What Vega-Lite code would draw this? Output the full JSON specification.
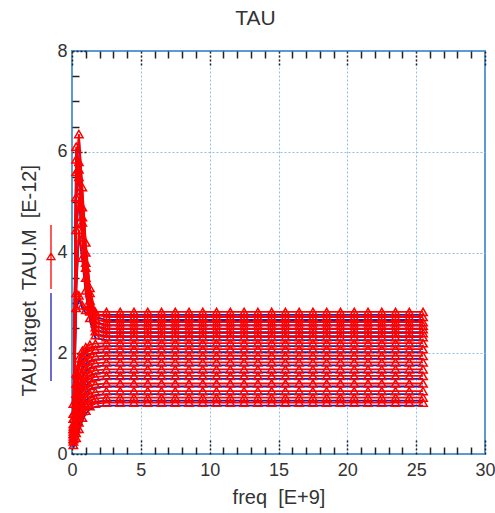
{
"$schema":"https://vega.github.io/schema/vega-lite/v6.json",
"width":413,"height":403,
"autosize":{"type":"none"},
"padding":{"left":72,"top":51,"right":10,"bottom":59},
"title":{"text":"TAU","fontSize":21,"font":"Liberation Sans","fontWeight":"normal","color":"#333333","offset":13,"frame":"group","dx":-23},
"config":{
 "view":{"stroke":"#5b9bd5","strokeWidth":2},
 "axis":{"domain":false,"labelFont":"Liberation Sans","titleFont":"Liberation Sans","labelFontSize":18,"titleFontSize":20,"labelColor":"#333333","titleColor":"#333333","titleFontWeight":"normal","tickColor":"#222222","tickWidth":1.5,"gridColor":"#8fbde6","gridDash":[2,2],"gridWidth":1,"labelOverlap":false,"labelFlush":false}
},
"data":{"values":[
{"c":1,"f":0.1,"m":0.4,"t":0.34},{"c":1,"f":0.3,"m":2.9,"t":2.84},{"c":1,"f":0.5,"m":3.15,"t":3.09},{"c":1,"f":0.75,"m":2.95,"t":2.89},{"c":1,"f":1,"m":2.86,"t":2.8},{"c":1,"f":1.3,"m":2.83,"t":2.77},{"c":1,"f":1.7,"m":2.82,"t":2.76},{"c":1,"f":2.5,"m":2.82,"t":2.76},
{"c":1,"f":3.5,"m":2.82,"t":2.76},{"c":1,"f":4.5,"m":2.82,"t":2.76},{"c":1,"f":5.5,"m":2.82,"t":2.76},{"c":1,"f":6.5,"m":2.82,"t":2.76},{"c":1,"f":7.5,"m":2.82,"t":2.76},{"c":1,"f":8.5,"m":2.82,"t":2.76},{"c":1,"f":9.5,"m":2.82,"t":2.76},{"c":1,"f":10.5,"m":2.82,"t":2.76},{"c":1,"f":11.5,"m":2.82,"t":2.76},{"c":1,"f":12.5,"m":2.82,"t":2.76},{"c":1,"f":13.5,"m":2.82,"t":2.76},{"c":1,"f":14.5,"m":2.82,"t":2.76},{"c":1,"f":15.5,"m":2.82,"t":2.76},{"c":1,"f":16.5,"m":2.82,"t":2.76},{"c":1,"f":17.5,"m":2.82,"t":2.76},{"c":1,"f":18.5,"m":2.82,"t":2.76},{"c":1,"f":19.5,"m":2.82,"t":2.76},{"c":1,"f":20.5,"m":2.82,"t":2.76},{"c":1,"f":21.5,"m":2.82,"t":2.76},{"c":1,"f":22.5,"m":2.82,"t":2.76},{"c":1,"f":23.5,"m":2.82,"t":2.76},{"c":1,"f":24.5,"m":2.82,"t":2.76},{"c":1,"f":25.5,"m":2.82,"t":2.76},
{"c":2,"f":0.1,"m":0.5,"t":0.44},{"c":2,"f":0.3,"m":5.6,"t":5.54},{"c":2,"f":0.5,"m":6.35,"t":6.29},{"c":2,"f":0.75,"m":5.3,"t":5.24},{"c":2,"f":1,"m":4.2,"t":4.14},{"c":2,"f":1.3,"m":3.3,"t":3.24},{"c":2,"f":1.7,"m":2.78,"t":2.72},{"c":2,"f":2.5,"m":2.72,"t":2.66},
{"c":2,"f":3.5,"m":2.72,"t":2.66},{"c":2,"f":4.5,"m":2.72,"t":2.66},{"c":2,"f":5.5,"m":2.72,"t":2.66},{"c":2,"f":6.5,"m":2.72,"t":2.66},{"c":2,"f":7.5,"m":2.72,"t":2.66},{"c":2,"f":8.5,"m":2.72,"t":2.66},{"c":2,"f":9.5,"m":2.72,"t":2.66},{"c":2,"f":10.5,"m":2.72,"t":2.66},{"c":2,"f":11.5,"m":2.72,"t":2.66},{"c":2,"f":12.5,"m":2.72,"t":2.66},{"c":2,"f":13.5,"m":2.72,"t":2.66},{"c":2,"f":14.5,"m":2.72,"t":2.66},{"c":2,"f":15.5,"m":2.72,"t":2.66},{"c":2,"f":16.5,"m":2.72,"t":2.66},{"c":2,"f":17.5,"m":2.72,"t":2.66},{"c":2,"f":18.5,"m":2.72,"t":2.66},{"c":2,"f":19.5,"m":2.72,"t":2.66},{"c":2,"f":20.5,"m":2.72,"t":2.66},{"c":2,"f":21.5,"m":2.72,"t":2.66},{"c":2,"f":22.5,"m":2.72,"t":2.66},{"c":2,"f":23.5,"m":2.72,"t":2.66},{"c":2,"f":24.5,"m":2.72,"t":2.66},{"c":2,"f":25.5,"m":2.72,"t":2.66},
{"c":3,"f":0.1,"m":0.6,"t":0.54},{"c":3,"f":0.3,"m":6.1,"t":6.04},{"c":3,"f":0.5,"m":5.8,"t":5.74},{"c":3,"f":0.75,"m":4.9,"t":4.84},{"c":3,"f":1,"m":4.0,"t":3.94},{"c":3,"f":1.3,"m":3.2,"t":3.14},{"c":3,"f":1.7,"m":2.68,"t":2.62},{"c":3,"f":2.5,"m":2.62,"t":2.56},
{"c":3,"f":3.5,"m":2.62,"t":2.56},{"c":3,"f":4.5,"m":2.62,"t":2.56},{"c":3,"f":5.5,"m":2.62,"t":2.56},{"c":3,"f":6.5,"m":2.62,"t":2.56},{"c":3,"f":7.5,"m":2.62,"t":2.56},{"c":3,"f":8.5,"m":2.62,"t":2.56},{"c":3,"f":9.5,"m":2.62,"t":2.56},{"c":3,"f":10.5,"m":2.62,"t":2.56},{"c":3,"f":11.5,"m":2.62,"t":2.56},{"c":3,"f":12.5,"m":2.62,"t":2.56},{"c":3,"f":13.5,"m":2.62,"t":2.56},{"c":3,"f":14.5,"m":2.62,"t":2.56},{"c":3,"f":15.5,"m":2.62,"t":2.56},{"c":3,"f":16.5,"m":2.62,"t":2.56},{"c":3,"f":17.5,"m":2.62,"t":2.56},{"c":3,"f":18.5,"m":2.62,"t":2.56},{"c":3,"f":19.5,"m":2.62,"t":2.56},{"c":3,"f":20.5,"m":2.62,"t":2.56},{"c":3,"f":21.5,"m":2.62,"t":2.56},{"c":3,"f":22.5,"m":2.62,"t":2.56},{"c":3,"f":23.5,"m":2.62,"t":2.56},{"c":3,"f":24.5,"m":2.62,"t":2.56},{"c":3,"f":25.5,"m":2.62,"t":2.56},
{"c":4,"f":0.1,"m":0.3,"t":0.24},{"c":4,"f":0.3,"m":5.85,"t":5.79},{"c":4,"f":0.5,"m":5.5,"t":5.44},{"c":4,"f":0.75,"m":4.7,"t":4.64},{"c":4,"f":1,"m":3.8,"t":3.74},{"c":4,"f":1.3,"m":3.05,"t":2.99},{"c":4,"f":1.7,"m":2.6,"t":2.54},{"c":4,"f":2.5,"m":2.55,"t":2.49},
{"c":4,"f":3.5,"m":2.55,"t":2.49},{"c":4,"f":4.5,"m":2.55,"t":2.49},{"c":4,"f":5.5,"m":2.55,"t":2.49},{"c":4,"f":6.5,"m":2.55,"t":2.49},{"c":4,"f":7.5,"m":2.55,"t":2.49},{"c":4,"f":8.5,"m":2.55,"t":2.49},{"c":4,"f":9.5,"m":2.55,"t":2.49},{"c":4,"f":10.5,"m":2.55,"t":2.49},{"c":4,"f":11.5,"m":2.55,"t":2.49},{"c":4,"f":12.5,"m":2.55,"t":2.49},{"c":4,"f":13.5,"m":2.55,"t":2.49},{"c":4,"f":14.5,"m":2.55,"t":2.49},{"c":4,"f":15.5,"m":2.55,"t":2.49},{"c":4,"f":16.5,"m":2.55,"t":2.49},{"c":4,"f":17.5,"m":2.55,"t":2.49},{"c":4,"f":18.5,"m":2.55,"t":2.49},{"c":4,"f":19.5,"m":2.55,"t":2.49},{"c":4,"f":20.5,"m":2.55,"t":2.49},{"c":4,"f":21.5,"m":2.55,"t":2.49},{"c":4,"f":22.5,"m":2.55,"t":2.49},{"c":4,"f":23.5,"m":2.55,"t":2.49},{"c":4,"f":24.5,"m":2.55,"t":2.49},{"c":4,"f":25.5,"m":2.55,"t":2.49},
{"c":5,"f":0.1,"m":0.8,"t":0.74},{"c":5,"f":0.3,"m":5.1,"t":5.04},{"c":5,"f":0.5,"m":5.65,"t":5.59},{"c":5,"f":0.75,"m":4.6,"t":4.54},{"c":5,"f":1,"m":3.7,"t":3.64},{"c":5,"f":1.3,"m":2.95,"t":2.89},{"c":5,"f":1.7,"m":2.52,"t":2.46},{"c":5,"f":2.5,"m":2.48,"t":2.42},
{"c":5,"f":3.5,"m":2.48,"t":2.42},{"c":5,"f":4.5,"m":2.48,"t":2.42},{"c":5,"f":5.5,"m":2.48,"t":2.42},{"c":5,"f":6.5,"m":2.48,"t":2.42},{"c":5,"f":7.5,"m":2.48,"t":2.42},{"c":5,"f":8.5,"m":2.48,"t":2.42},{"c":5,"f":9.5,"m":2.48,"t":2.42},{"c":5,"f":10.5,"m":2.48,"t":2.42},{"c":5,"f":11.5,"m":2.48,"t":2.42},{"c":5,"f":12.5,"m":2.48,"t":2.42},{"c":5,"f":13.5,"m":2.48,"t":2.42},{"c":5,"f":14.5,"m":2.48,"t":2.42},{"c":5,"f":15.5,"m":2.48,"t":2.42},{"c":5,"f":16.5,"m":2.48,"t":2.42},{"c":5,"f":17.5,"m":2.48,"t":2.42},{"c":5,"f":18.5,"m":2.48,"t":2.42},{"c":5,"f":19.5,"m":2.48,"t":2.42},{"c":5,"f":20.5,"m":2.48,"t":2.42},{"c":5,"f":21.5,"m":2.48,"t":2.42},{"c":5,"f":22.5,"m":2.48,"t":2.42},{"c":5,"f":23.5,"m":2.48,"t":2.42},{"c":5,"f":24.5,"m":2.48,"t":2.42},{"c":5,"f":25.5,"m":2.48,"t":2.42},
{"c":6,"f":0.1,"m":0.45,"t":0.39},{"c":6,"f":0.3,"m":4.45,"t":4.39},{"c":6,"f":0.5,"m":5.1,"t":5.04},{"c":6,"f":0.75,"m":4.3,"t":4.24},{"c":6,"f":1,"m":3.5,"t":3.44},{"c":6,"f":1.3,"m":2.85,"t":2.79},{"c":6,"f":1.7,"m":2.44,"t":2.38},{"c":6,"f":2.5,"m":2.4,"t":2.34},
{"c":6,"f":3.5,"m":2.4,"t":2.34},{"c":6,"f":4.5,"m":2.4,"t":2.34},{"c":6,"f":5.5,"m":2.4,"t":2.34},{"c":6,"f":6.5,"m":2.4,"t":2.34},{"c":6,"f":7.5,"m":2.4,"t":2.34},{"c":6,"f":8.5,"m":2.4,"t":2.34},{"c":6,"f":9.5,"m":2.4,"t":2.34},{"c":6,"f":10.5,"m":2.4,"t":2.34},{"c":6,"f":11.5,"m":2.4,"t":2.34},{"c":6,"f":12.5,"m":2.4,"t":2.34},{"c":6,"f":13.5,"m":2.4,"t":2.34},{"c":6,"f":14.5,"m":2.4,"t":2.34},{"c":6,"f":15.5,"m":2.4,"t":2.34},{"c":6,"f":16.5,"m":2.4,"t":2.34},{"c":6,"f":17.5,"m":2.4,"t":2.34},{"c":6,"f":18.5,"m":2.4,"t":2.34},{"c":6,"f":19.5,"m":2.4,"t":2.34},{"c":6,"f":20.5,"m":2.4,"t":2.34},{"c":6,"f":21.5,"m":2.4,"t":2.34},{"c":6,"f":22.5,"m":2.4,"t":2.34},{"c":6,"f":23.5,"m":2.4,"t":2.34},{"c":6,"f":24.5,"m":2.4,"t":2.34},{"c":6,"f":25.5,"m":2.4,"t":2.34},
{"c":7,"f":0.1,"m":0.7,"t":0.64},{"c":7,"f":0.3,"m":3.2,"t":3.14},{"c":7,"f":0.5,"m":4.45,"t":4.39},{"c":7,"f":0.75,"m":3.9,"t":3.84},{"c":7,"f":1,"m":3.25,"t":3.19},{"c":7,"f":1.3,"m":2.7,"t":2.64},{"c":7,"f":1.7,"m":2.36,"t":2.3},{"c":7,"f":2.5,"m":2.32,"t":2.26},
{"c":7,"f":3.5,"m":2.32,"t":2.26},{"c":7,"f":4.5,"m":2.32,"t":2.26},{"c":7,"f":5.5,"m":2.32,"t":2.26},{"c":7,"f":6.5,"m":2.32,"t":2.26},{"c":7,"f":7.5,"m":2.32,"t":2.26},{"c":7,"f":8.5,"m":2.32,"t":2.26},{"c":7,"f":9.5,"m":2.32,"t":2.26},{"c":7,"f":10.5,"m":2.32,"t":2.26},{"c":7,"f":11.5,"m":2.32,"t":2.26},{"c":7,"f":12.5,"m":2.32,"t":2.26},{"c":7,"f":13.5,"m":2.32,"t":2.26},{"c":7,"f":14.5,"m":2.32,"t":2.26},{"c":7,"f":15.5,"m":2.32,"t":2.26},{"c":7,"f":16.5,"m":2.32,"t":2.26},{"c":7,"f":17.5,"m":2.32,"t":2.26},{"c":7,"f":18.5,"m":2.32,"t":2.26},{"c":7,"f":19.5,"m":2.32,"t":2.26},{"c":7,"f":20.5,"m":2.32,"t":2.26},{"c":7,"f":21.5,"m":2.32,"t":2.26},{"c":7,"f":22.5,"m":2.32,"t":2.26},{"c":7,"f":23.5,"m":2.32,"t":2.26},{"c":7,"f":24.5,"m":2.32,"t":2.26},{"c":7,"f":25.5,"m":2.32,"t":2.26},
{"c":8,"f":0.1,"m":1.0,"t":0.94},{"c":8,"f":0.3,"m":1.6,"t":1.54},{"c":8,"f":0.5,"m":1.9,"t":1.84},{"c":8,"f":0.75,"m":2.05,"t":1.99},{"c":8,"f":1,"m":2.12,"t":2.06},{"c":8,"f":1.3,"m":2.17,"t":2.11},{"c":8,"f":1.7,"m":2.19,"t":2.13},{"c":8,"f":2.5,"m":2.2,"t":2.14},
{"c":8,"f":3.5,"m":2.2,"t":2.14},{"c":8,"f":4.5,"m":2.2,"t":2.14},{"c":8,"f":5.5,"m":2.2,"t":2.14},{"c":8,"f":6.5,"m":2.2,"t":2.14},{"c":8,"f":7.5,"m":2.2,"t":2.14},{"c":8,"f":8.5,"m":2.2,"t":2.14},{"c":8,"f":9.5,"m":2.2,"t":2.14},{"c":8,"f":10.5,"m":2.2,"t":2.14},{"c":8,"f":11.5,"m":2.2,"t":2.14},{"c":8,"f":12.5,"m":2.2,"t":2.14},{"c":8,"f":13.5,"m":2.2,"t":2.14},{"c":8,"f":14.5,"m":2.2,"t":2.14},{"c":8,"f":15.5,"m":2.2,"t":2.14},{"c":8,"f":16.5,"m":2.2,"t":2.14},{"c":8,"f":17.5,"m":2.2,"t":2.14},{"c":8,"f":18.5,"m":2.2,"t":2.14},{"c":8,"f":19.5,"m":2.2,"t":2.14},{"c":8,"f":20.5,"m":2.2,"t":2.14},{"c":8,"f":21.5,"m":2.2,"t":2.14},{"c":8,"f":22.5,"m":2.2,"t":2.14},{"c":8,"f":23.5,"m":2.2,"t":2.14},{"c":8,"f":24.5,"m":2.2,"t":2.14},{"c":8,"f":25.5,"m":2.2,"t":2.14},
{"c":9,"f":0.1,"m":0.8,"t":0.74},{"c":9,"f":0.3,"m":1.4,"t":1.34},{"c":9,"f":0.5,"m":1.75,"t":1.69},{"c":9,"f":0.75,"m":1.92,"t":1.86},{"c":9,"f":1,"m":2.0,"t":1.94},{"c":9,"f":1.3,"m":2.05,"t":1.99},{"c":9,"f":1.7,"m":2.07,"t":2.01},{"c":9,"f":2.5,"m":2.08,"t":2.02},
{"c":9,"f":3.5,"m":2.08,"t":2.02},{"c":9,"f":4.5,"m":2.08,"t":2.02},{"c":9,"f":5.5,"m":2.08,"t":2.02},{"c":9,"f":6.5,"m":2.08,"t":2.02},{"c":9,"f":7.5,"m":2.08,"t":2.02},{"c":9,"f":8.5,"m":2.08,"t":2.02},{"c":9,"f":9.5,"m":2.08,"t":2.02},{"c":9,"f":10.5,"m":2.08,"t":2.02},{"c":9,"f":11.5,"m":2.08,"t":2.02},{"c":9,"f":12.5,"m":2.08,"t":2.02},{"c":9,"f":13.5,"m":2.08,"t":2.02},{"c":9,"f":14.5,"m":2.08,"t":2.02},{"c":9,"f":15.5,"m":2.08,"t":2.02},{"c":9,"f":16.5,"m":2.08,"t":2.02},{"c":9,"f":17.5,"m":2.08,"t":2.02},{"c":9,"f":18.5,"m":2.08,"t":2.02},{"c":9,"f":19.5,"m":2.08,"t":2.02},{"c":9,"f":20.5,"m":2.08,"t":2.02},{"c":9,"f":21.5,"m":2.08,"t":2.02},{"c":9,"f":22.5,"m":2.08,"t":2.02},{"c":9,"f":23.5,"m":2.08,"t":2.02},{"c":9,"f":24.5,"m":2.08,"t":2.02},{"c":9,"f":25.5,"m":2.08,"t":2.02},
{"c":10,"f":0.1,"m":0.7,"t":0.64},{"c":10,"f":0.3,"m":1.2,"t":1.14},{"c":10,"f":0.5,"m":1.55,"t":1.49},{"c":10,"f":0.75,"m":1.75,"t":1.69},{"c":10,"f":1,"m":1.85,"t":1.79},{"c":10,"f":1.3,"m":1.91,"t":1.85},{"c":10,"f":1.7,"m":1.94,"t":1.88},{"c":10,"f":2.5,"m":1.95,"t":1.89},
{"c":10,"f":3.5,"m":1.95,"t":1.89},{"c":10,"f":4.5,"m":1.95,"t":1.89},{"c":10,"f":5.5,"m":1.95,"t":1.89},{"c":10,"f":6.5,"m":1.95,"t":1.89},{"c":10,"f":7.5,"m":1.95,"t":1.89},{"c":10,"f":8.5,"m":1.95,"t":1.89},{"c":10,"f":9.5,"m":1.95,"t":1.89},{"c":10,"f":10.5,"m":1.95,"t":1.89},{"c":10,"f":11.5,"m":1.95,"t":1.89},{"c":10,"f":12.5,"m":1.95,"t":1.89},{"c":10,"f":13.5,"m":1.95,"t":1.89},{"c":10,"f":14.5,"m":1.95,"t":1.89},{"c":10,"f":15.5,"m":1.95,"t":1.89},{"c":10,"f":16.5,"m":1.95,"t":1.89},{"c":10,"f":17.5,"m":1.95,"t":1.89},{"c":10,"f":18.5,"m":1.95,"t":1.89},{"c":10,"f":19.5,"m":1.95,"t":1.89},{"c":10,"f":20.5,"m":1.95,"t":1.89},{"c":10,"f":21.5,"m":1.95,"t":1.89},{"c":10,"f":22.5,"m":1.95,"t":1.89},{"c":10,"f":23.5,"m":1.95,"t":1.89},{"c":10,"f":24.5,"m":1.95,"t":1.89},{"c":10,"f":25.5,"m":1.95,"t":1.89},
{"c":11,"f":0.1,"m":0.55,"t":0.49},{"c":11,"f":0.3,"m":1.0,"t":0.94},{"c":11,"f":0.5,"m":1.35,"t":1.29},{"c":11,"f":0.75,"m":1.58,"t":1.52},{"c":11,"f":1,"m":1.7,"t":1.64},{"c":11,"f":1.3,"m":1.77,"t":1.71},{"c":11,"f":1.7,"m":1.8,"t":1.74},{"c":11,"f":2.5,"m":1.82,"t":1.76},
{"c":11,"f":3.5,"m":1.82,"t":1.76},{"c":11,"f":4.5,"m":1.82,"t":1.76},{"c":11,"f":5.5,"m":1.82,"t":1.76},{"c":11,"f":6.5,"m":1.82,"t":1.76},{"c":11,"f":7.5,"m":1.82,"t":1.76},{"c":11,"f":8.5,"m":1.82,"t":1.76},{"c":11,"f":9.5,"m":1.82,"t":1.76},{"c":11,"f":10.5,"m":1.82,"t":1.76},{"c":11,"f":11.5,"m":1.82,"t":1.76},{"c":11,"f":12.5,"m":1.82,"t":1.76},{"c":11,"f":13.5,"m":1.82,"t":1.76},{"c":11,"f":14.5,"m":1.82,"t":1.76},{"c":11,"f":15.5,"m":1.82,"t":1.76},{"c":11,"f":16.5,"m":1.82,"t":1.76},{"c":11,"f":17.5,"m":1.82,"t":1.76},{"c":11,"f":18.5,"m":1.82,"t":1.76},{"c":11,"f":19.5,"m":1.82,"t":1.76},{"c":11,"f":20.5,"m":1.82,"t":1.76},{"c":11,"f":21.5,"m":1.82,"t":1.76},{"c":11,"f":22.5,"m":1.82,"t":1.76},{"c":11,"f":23.5,"m":1.82,"t":1.76},{"c":11,"f":24.5,"m":1.82,"t":1.76},{"c":11,"f":25.5,"m":1.82,"t":1.76},
{"c":12,"f":0.1,"m":0.5,"t":0.44},{"c":12,"f":0.3,"m":0.85,"t":0.79},{"c":12,"f":0.5,"m":1.18,"t":1.12},{"c":12,"f":0.75,"m":1.42,"t":1.36},{"c":12,"f":1,"m":1.55,"t":1.49},{"c":12,"f":1.3,"m":1.62,"t":1.56},{"c":12,"f":1.7,"m":1.66,"t":1.6},{"c":12,"f":2.5,"m":1.68,"t":1.62},
{"c":12,"f":3.5,"m":1.68,"t":1.62},{"c":12,"f":4.5,"m":1.68,"t":1.62},{"c":12,"f":5.5,"m":1.68,"t":1.62},{"c":12,"f":6.5,"m":1.68,"t":1.62},{"c":12,"f":7.5,"m":1.68,"t":1.62},{"c":12,"f":8.5,"m":1.68,"t":1.62},{"c":12,"f":9.5,"m":1.68,"t":1.62},{"c":12,"f":10.5,"m":1.68,"t":1.62},{"c":12,"f":11.5,"m":1.68,"t":1.62},{"c":12,"f":12.5,"m":1.68,"t":1.62},{"c":12,"f":13.5,"m":1.68,"t":1.62},{"c":12,"f":14.5,"m":1.68,"t":1.62},{"c":12,"f":15.5,"m":1.68,"t":1.62},{"c":12,"f":16.5,"m":1.68,"t":1.62},{"c":12,"f":17.5,"m":1.68,"t":1.62},{"c":12,"f":18.5,"m":1.68,"t":1.62},{"c":12,"f":19.5,"m":1.68,"t":1.62},{"c":12,"f":20.5,"m":1.68,"t":1.62},{"c":12,"f":21.5,"m":1.68,"t":1.62},{"c":12,"f":22.5,"m":1.68,"t":1.62},{"c":12,"f":23.5,"m":1.68,"t":1.62},{"c":12,"f":24.5,"m":1.68,"t":1.62},{"c":12,"f":25.5,"m":1.68,"t":1.62},
{"c":13,"f":0.1,"m":0.4,"t":0.34},{"c":13,"f":0.3,"m":0.7,"t":0.64},{"c":13,"f":0.5,"m":1.02,"t":0.96},{"c":13,"f":0.75,"m":1.28,"t":1.22},{"c":13,"f":1,"m":1.42,"t":1.36},{"c":13,"f":1.3,"m":1.5,"t":1.44},{"c":13,"f":1.7,"m":1.53,"t":1.47},{"c":13,"f":2.5,"m":1.55,"t":1.49},
{"c":13,"f":3.5,"m":1.55,"t":1.49},{"c":13,"f":4.5,"m":1.55,"t":1.49},{"c":13,"f":5.5,"m":1.55,"t":1.49},{"c":13,"f":6.5,"m":1.55,"t":1.49},{"c":13,"f":7.5,"m":1.55,"t":1.49},{"c":13,"f":8.5,"m":1.55,"t":1.49},{"c":13,"f":9.5,"m":1.55,"t":1.49},{"c":13,"f":10.5,"m":1.55,"t":1.49},{"c":13,"f":11.5,"m":1.55,"t":1.49},{"c":13,"f":12.5,"m":1.55,"t":1.49},{"c":13,"f":13.5,"m":1.55,"t":1.49},{"c":13,"f":14.5,"m":1.55,"t":1.49},{"c":13,"f":15.5,"m":1.55,"t":1.49},{"c":13,"f":16.5,"m":1.55,"t":1.49},{"c":13,"f":17.5,"m":1.55,"t":1.49},{"c":13,"f":18.5,"m":1.55,"t":1.49},{"c":13,"f":19.5,"m":1.55,"t":1.49},{"c":13,"f":20.5,"m":1.55,"t":1.49},{"c":13,"f":21.5,"m":1.55,"t":1.49},{"c":13,"f":22.5,"m":1.55,"t":1.49},{"c":13,"f":23.5,"m":1.55,"t":1.49},{"c":13,"f":24.5,"m":1.55,"t":1.49},{"c":13,"f":25.5,"m":1.55,"t":1.49},
{"c":14,"f":0.1,"m":0.35,"t":0.29},{"c":14,"f":0.3,"m":0.6,"t":0.54},{"c":14,"f":0.5,"m":0.88,"t":0.82},{"c":14,"f":0.75,"m":1.12,"t":1.06},{"c":14,"f":1,"m":1.27,"t":1.21},{"c":14,"f":1.3,"m":1.35,"t":1.29},{"c":14,"f":1.7,"m":1.38,"t":1.32},{"c":14,"f":2.5,"m":1.4,"t":1.34},
{"c":14,"f":3.5,"m":1.4,"t":1.34},{"c":14,"f":4.5,"m":1.4,"t":1.34},{"c":14,"f":5.5,"m":1.4,"t":1.34},{"c":14,"f":6.5,"m":1.4,"t":1.34},{"c":14,"f":7.5,"m":1.4,"t":1.34},{"c":14,"f":8.5,"m":1.4,"t":1.34},{"c":14,"f":9.5,"m":1.4,"t":1.34},{"c":14,"f":10.5,"m":1.4,"t":1.34},{"c":14,"f":11.5,"m":1.4,"t":1.34},{"c":14,"f":12.5,"m":1.4,"t":1.34},{"c":14,"f":13.5,"m":1.4,"t":1.34},{"c":14,"f":14.5,"m":1.4,"t":1.34},{"c":14,"f":15.5,"m":1.4,"t":1.34},{"c":14,"f":16.5,"m":1.4,"t":1.34},{"c":14,"f":17.5,"m":1.4,"t":1.34},{"c":14,"f":18.5,"m":1.4,"t":1.34},{"c":14,"f":19.5,"m":1.4,"t":1.34},{"c":14,"f":20.5,"m":1.4,"t":1.34},{"c":14,"f":21.5,"m":1.4,"t":1.34},{"c":14,"f":22.5,"m":1.4,"t":1.34},{"c":14,"f":23.5,"m":1.4,"t":1.34},{"c":14,"f":24.5,"m":1.4,"t":1.34},{"c":14,"f":25.5,"m":1.4,"t":1.34},
{"c":15,"f":0.1,"m":0.3,"t":0.24},{"c":15,"f":0.3,"m":0.5,"t":0.44},{"c":15,"f":0.5,"m":0.75,"t":0.69},{"c":15,"f":0.75,"m":0.98,"t":0.92},{"c":15,"f":1,"m":1.12,"t":1.06},{"c":15,"f":1.3,"m":1.2,"t":1.14},{"c":15,"f":1.7,"m":1.23,"t":1.17},{"c":15,"f":2.5,"m":1.25,"t":1.19},
{"c":15,"f":3.5,"m":1.25,"t":1.19},{"c":15,"f":4.5,"m":1.25,"t":1.19},{"c":15,"f":5.5,"m":1.25,"t":1.19},{"c":15,"f":6.5,"m":1.25,"t":1.19},{"c":15,"f":7.5,"m":1.25,"t":1.19},{"c":15,"f":8.5,"m":1.25,"t":1.19},{"c":15,"f":9.5,"m":1.25,"t":1.19},{"c":15,"f":10.5,"m":1.25,"t":1.19},{"c":15,"f":11.5,"m":1.25,"t":1.19},{"c":15,"f":12.5,"m":1.25,"t":1.19},{"c":15,"f":13.5,"m":1.25,"t":1.19},{"c":15,"f":14.5,"m":1.25,"t":1.19},{"c":15,"f":15.5,"m":1.25,"t":1.19},{"c":15,"f":16.5,"m":1.25,"t":1.19},{"c":15,"f":17.5,"m":1.25,"t":1.19},{"c":15,"f":18.5,"m":1.25,"t":1.19},{"c":15,"f":19.5,"m":1.25,"t":1.19},{"c":15,"f":20.5,"m":1.25,"t":1.19},{"c":15,"f":21.5,"m":1.25,"t":1.19},{"c":15,"f":22.5,"m":1.25,"t":1.19},{"c":15,"f":23.5,"m":1.25,"t":1.19},{"c":15,"f":24.5,"m":1.25,"t":1.19},{"c":15,"f":25.5,"m":1.25,"t":1.19},
{"c":16,"f":0.1,"m":0.25,"t":0.19},{"c":16,"f":0.3,"m":0.42,"t":0.36},{"c":16,"f":0.5,"m":0.63,"t":0.57},{"c":16,"f":0.75,"m":0.85,"t":0.79},{"c":16,"f":1,"m":0.98,"t":0.92},{"c":16,"f":1.3,"m":1.06,"t":1.0},{"c":16,"f":1.7,"m":1.1,"t":1.04},{"c":16,"f":2.5,"m":1.12,"t":1.06},
{"c":16,"f":3.5,"m":1.12,"t":1.06},{"c":16,"f":4.5,"m":1.12,"t":1.06},{"c":16,"f":5.5,"m":1.12,"t":1.06},{"c":16,"f":6.5,"m":1.12,"t":1.06},{"c":16,"f":7.5,"m":1.12,"t":1.06},{"c":16,"f":8.5,"m":1.12,"t":1.06},{"c":16,"f":9.5,"m":1.12,"t":1.06},{"c":16,"f":10.5,"m":1.12,"t":1.06},{"c":16,"f":11.5,"m":1.12,"t":1.06},{"c":16,"f":12.5,"m":1.12,"t":1.06},{"c":16,"f":13.5,"m":1.12,"t":1.06},{"c":16,"f":14.5,"m":1.12,"t":1.06},{"c":16,"f":15.5,"m":1.12,"t":1.06},{"c":16,"f":16.5,"m":1.12,"t":1.06},{"c":16,"f":17.5,"m":1.12,"t":1.06},{"c":16,"f":18.5,"m":1.12,"t":1.06},{"c":16,"f":19.5,"m":1.12,"t":1.06},{"c":16,"f":20.5,"m":1.12,"t":1.06},{"c":16,"f":21.5,"m":1.12,"t":1.06},{"c":16,"f":22.5,"m":1.12,"t":1.06},{"c":16,"f":23.5,"m":1.12,"t":1.06},{"c":16,"f":24.5,"m":1.12,"t":1.06},{"c":16,"f":25.5,"m":1.12,"t":1.06},
{"c":17,"f":0.1,"m":0.18,"t":0.12},{"c":17,"f":0.3,"m":0.32,"t":0.26},{"c":17,"f":0.5,"m":0.5,"t":0.44},{"c":17,"f":0.75,"m":0.72,"t":0.66},{"c":17,"f":1,"m":0.86,"t":0.8},{"c":17,"f":1.3,"m":0.95,"t":0.89},{"c":17,"f":1.7,"m":1.0,"t":0.94},{"c":17,"f":2.5,"m":1.02,"t":0.96},
{"c":17,"f":3.5,"m":1.02,"t":0.96},{"c":17,"f":4.5,"m":1.02,"t":0.96},{"c":17,"f":5.5,"m":1.02,"t":0.96},{"c":17,"f":6.5,"m":1.02,"t":0.96},{"c":17,"f":7.5,"m":1.02,"t":0.96},{"c":17,"f":8.5,"m":1.02,"t":0.96},{"c":17,"f":9.5,"m":1.02,"t":0.96},{"c":17,"f":10.5,"m":1.02,"t":0.96},{"c":17,"f":11.5,"m":1.02,"t":0.96},{"c":17,"f":12.5,"m":1.02,"t":0.96},{"c":17,"f":13.5,"m":1.02,"t":0.96},{"c":17,"f":14.5,"m":1.02,"t":0.96},{"c":17,"f":15.5,"m":1.02,"t":0.96},{"c":17,"f":16.5,"m":1.02,"t":0.96},{"c":17,"f":17.5,"m":1.02,"t":0.96},{"c":17,"f":18.5,"m":1.02,"t":0.96},{"c":17,"f":19.5,"m":1.02,"t":0.96},{"c":17,"f":20.5,"m":1.02,"t":0.96},{"c":17,"f":21.5,"m":1.02,"t":0.96},{"c":17,"f":22.5,"m":1.02,"t":0.96},{"c":17,"f":23.5,"m":1.02,"t":0.96},{"c":17,"f":24.5,"m":1.02,"t":0.96},{"c":17,"f":25.5,"m":1.02,"t":0.96}
]},
"resolve":{"axis":{"x":"independent","y":"independent"}},
"layer":[
 {"mark":{"type":"line","strokeWidth":1.8},
  "encoding":{
   "x":{"field":"f","type":"quantitative","scale":{"domain":[0,30],"nice":false,"zero":false},
    "axis":{"orient":"bottom","values":[0,1,2,3,4,5,6,7,8,9,10,11,12,13,14,15,16,17,18,19,20,21,22,23,24,25,26,27,28,29,30],
     "labelExpr":"datum.value % 5 === 0 ? format(datum.value, 'd') : ''","title":"freq\u00a0\u00a0[E+9]","titlePadding":0,"labelPadding":22,
     "tickSize":{"condition":{"test":"datum.value % 5 === 0","value":-15},"value":-7},
     "tickDash":{"condition":{"test":"datum.value % 5 === 0","value":[2,2]},"value":[]},
     "gridOpacity":{"condition":{"test":"datum.value % 5 === 0 && datum.value > 0 && datum.value < 30","value":1},"value":0}}},
   "y":{"field":"t","type":"quantitative","scale":{"domain":[0,8],"nice":false},
    "axis":{"orient":"left","values":[0,0.5,1,1.5,2,2.5,3,3.5,4,4.5,5,5.5,6,6.5,7,7.5,8],
     "labelExpr":"datum.value % 2 === 0 ? format(datum.value, 'd') : ''","labelPadding":20,
     "title":"TAU.target\u00a0\u00a0TAU.M\u00a0\u00a0[E-12]","titleX":-37,"titleY":345,"titleAlign":"left","titleBaseline":"alphabetic","titleAngle":270,
     "tickSize":{"condition":{"test":"datum.value % 2 === 0","value":-15},"value":-7},
     "tickDash":{"condition":{"test":"datum.value % 2 === 0","value":[2,2]},"value":[]},
     "gridOpacity":{"condition":{"test":"datum.value % 2 === 0 && datum.value > 0 && datum.value < 8","value":1},"value":0}}},
   "detail":{"field":"c","type":"nominal"},
   "order":{"field":"f"},
   "color":{"datum":"TAU.target","scale":{"domain":["TAU.M","TAU.target"],"range":["#ff0000","#1c1cb0"]},
    "legend":{"orient":"none","legendX":-66,"legendY":161,"direction":"vertical","title":null,"padding":0,
     "symbolSize":7744,"symbolStrokeWidth":1.3,"labelOpacity":0,"labelFontSize":1,"rowPadding":-2,"symbolType":"M0,-1L0,1",
     "encode":{"symbols":{"update":{"shape":{"signal":"datum.value === 'TAU.M' ? 'M0,-0.727L0,0.727M-0.09,0.06L0,-0.09L0.09,0.06Z' : 'M0,-1L0,1'"},"fill":{"value":"transparent"}}}}}}
  }},
 {"mark":{"type":"line","strokeWidth":1.8},
  "encoding":{
   "x":{"field":"f","type":"quantitative",
    "axis":{"orient":"top","values":[0,1,2,3,4,5,6,7,8,9,10,11,12,13,14,15,16,17,18,19,20,21,22,23,24,25,26,27,28,29,30],"labels":false,"title":null,"grid":false,
     "tickSize":{"condition":{"test":"datum.value % 5 === 0","value":-15},"value":-7},
     "tickDash":{"condition":{"test":"datum.value % 5 === 0","value":[2,2]},"value":[]}}},
   "y":{"field":"m","type":"quantitative","axis":null},
   "detail":{"field":"c","type":"nominal"},
   "order":{"field":"f"},
   "color":{"datum":"TAU.M"}
  }},
 {"mark":{"type":"point","shape":"triangle-up","filled":false,"size":70,"strokeWidth":1.5,"opacity":1},
  "encoding":{
   "x":{"field":"f","type":"quantitative","axis":null},
   "y":{"field":"m","type":"quantitative","axis":null},
   "color":{"datum":"TAU.M"}
  }}
]
}
